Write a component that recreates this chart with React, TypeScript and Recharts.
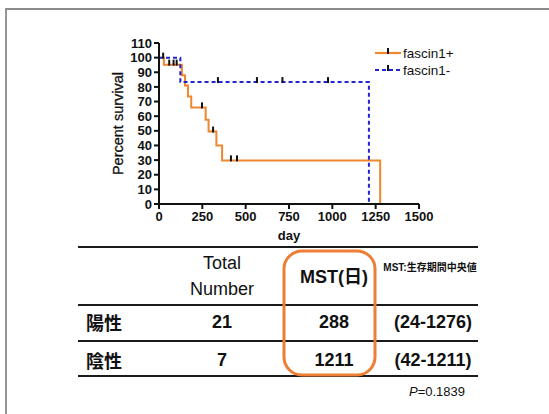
import React from 'react';
import { LineChart, Line, XAxis, YAxis, Legend } from 'recharts';

// ---- chart data (day, percent survival, c = censored mark) ----
const fascinPos = [
  { d: 0, v: 100 },
  { d: 24, v: 100, c: 1 },
  { d: 28, v: 95.2 },
  { d: 59, v: 95.2, c: 1 },
  { d: 84, v: 95.2, c: 1 },
  { d: 102, v: 95.2, c: 1 },
  { d: 132, v: 88 },
  { d: 150, v: 81 },
  { d: 167, v: 73.5 },
  { d: 186, v: 66 },
  { d: 248, v: 66, c: 1 },
  { d: 269, v: 57.5 },
  { d: 286, v: 49.5 },
  { d: 312, v: 49.5, c: 1 },
  { d: 331, v: 40 },
  { d: 364, v: 29.8 },
  { d: 415, v: 29.8, c: 1 },
  { d: 450, v: 29.8, c: 1 },
  { d: 1276, v: 0 },
];
const fascinNeg = [
  { d: 0, v: 100 },
  { d: 123, v: 83.3 },
  { d: 340, v: 83.3, c: 1 },
  { d: 565, v: 83.3, c: 1 },
  { d: 712, v: 83.3, c: 1 },
  { d: 975, v: 83.3, c: 1 },
  { d: 1211, v: 0 },
];
const xTicks = [0, 250, 500, 750, 1000, 1250, 1500];
const yTicks = [0, 10, 20, 30, 40, 50, 60, 70, 80, 90, 100, 110];
const seriesNames = ['fascin1+', 'fascin1-'];
const seriesColors = ['#F0862E', '#2323D2'];

// ---- table data ----
const headerTotal = ['Total', 'Number'];
const headerMst = 'MST(日)';
const headerNote = 'MST:生存期間中央値';
const rowLabels = ['陽性', '陰性'];
const rowTotals = [21, 7];
const rowMst = [288, 1211];
const rowRanges = ['(24-1276)', '(42-1211)'];
const pValue = '=0.1839';

const FONT = '"Liberation Sans", Arial, Helvetica, sans-serif';
const CJK = '"Liberation Sans", "Noto Sans CJK JP", sans-serif';

const renderCensor = (props: any) => {
  const { cx, cy, payload, index } = props;
  if (!payload || !payload.c) return <g key={`n${index}`} />;
  return <rect key={`c${index}`} x={cx - 1} y={cy - 5} width={2} height={6} fill="#111" />;
};

const YLabel = (props: any) => {
  const vb = props.viewBox || { x: 119, y: 43, width: 40, height: 161 };
  const cx = vb.x - 1;
  const cy = vb.y + vb.height / 2;
  return (
    <text x={cx} y={cy} transform={`rotate(-90 ${cx} ${cy})`} textAnchor="middle" dominantBaseline="central"
      fontFamily={FONT} fontSize={14.5} fill="#111" stroke="#111" strokeWidth={0.3}>Percent survival</text>
  );
};

const XLabel = (props: any) => {
  const vb = props.viewBox || { x: 159, y: 204, width: 260, height: 22 };
  return (
    <text x={vb.x + vb.width / 2} y={235} textAnchor="middle" dominantBaseline="central"
      fontFamily={FONT} fontSize={13} fontWeight="bold" fill="#111">day</text>
  );
};

const LegendContent = () => (
  <svg width={110} height={36} style={{ display: 'block' }}>
    {seriesNames.map((n, i) => {
      const y = 9 + i * 17;
      return (
        <g key={n}>
          <line x1={3} x2={29} y1={y} y2={y} stroke={seriesColors[i]} strokeWidth={2.2}
            strokeDasharray={i === 1 ? '4 3' : undefined} />
          <rect x={15} y={y - 5} width={2} height={6} fill="#111" />
          <text x={31} y={y} dominantBaseline="central" fontFamily={FONT} fontSize={13.5} fill="#111">{n}</text>
        </g>
      );
    })}
  </svg>
);

const colX = { label: 86, total: 222, mst: 334, range: 433 };
const rowY = [322, 360];
const lineYs = [247, 305, 341, 376];

const TableOverlay = () => (
  <svg width={549} height={414} style={{ position: 'absolute', left: 0, top: 0, pointerEvents: 'none' }}>
    {/* frame edges */}
    <line x1={6} x2={6} y1={8} y2={414} stroke="#8a8a8a" strokeWidth={1.8} />
    <line x1={6} x2={549} y1={9} y2={9} stroke="#8a8a8a" strokeWidth={1.8} />
    {lineYs.map((y) => (
      <line key={y} x1={78} x2={478} y1={y} y2={y} stroke="#1a1a1a" strokeWidth={2} />
    ))}
    <text x={colX.total} y={263} textAnchor="middle" dominantBaseline="central" fontFamily={FONT} fontSize={18} fill="#111">{headerTotal[0]}</text>
    <text x={colX.total} y={289} textAnchor="middle" dominantBaseline="central" fontFamily={FONT} fontSize={18} fill="#111">{headerTotal[1]}</text>
    <text x={colX.mst} y={277} textAnchor="middle" dominantBaseline="central" fontFamily={CJK} fontSize={18} fontWeight="bold" fill="#111">{headerMst}</text>
    <text x={430} y={267} textAnchor="middle" dominantBaseline="central" fontFamily={CJK} fontSize={10} fontWeight="bold" fill="#111">{headerNote}</text>
    {rowLabels.map((lab, i) => (
      <g key={lab}>
        <text x={colX.label} y={rowY[i]} dominantBaseline="central" fontFamily='"Noto Sans CJK JP", sans-serif' fontSize={18} fontWeight="bold" fill="#111">{lab}</text>
        <text x={colX.total} y={rowY[i]} textAnchor="middle" dominantBaseline="central" fontFamily={FONT} fontSize={18} fontWeight="bold" fill="#111">{rowTotals[i]}</text>
        <text x={colX.mst} y={rowY[i]} textAnchor="middle" dominantBaseline="central" fontFamily={FONT} fontSize={18} fontWeight="bold" fill="#111">{rowMst[i]}</text>
        <text x={colX.range} y={rowY[i]} textAnchor="middle" dominantBaseline="central" fontFamily={FONT} fontSize={18} fontWeight="bold" fill="#111">{rowRanges[i]}</text>
      </g>
    ))}
    <text x={465} y={391} textAnchor="end" dominantBaseline="central" fontFamily={FONT} fontSize={13} fill="#111">
      <tspan fontStyle="italic">P</tspan>{pValue}
    </text>
    <rect x={284} y={251} width={91} height={124} rx={18} ry={18} fill="none" stroke="#EE7E33" strokeWidth={3} />
  </svg>
);

export default function App() {
  return (
    <div style={{ position: 'absolute', left: 0, top: 0, width: 549, height: 414, background: '#fff' }}>
      <LineChart width={549} height={414} margin={{ top: 43, right: 130, bottom: 188, left: 119 }}>
        <XAxis dataKey="d" type="number" domain={[0, 1500]} ticks={xTicks} interval={0} allowDataOverflow
          height={22} tickSize={5} tickMargin={3}
          axisLine={{ stroke: '#111', strokeWidth: 2 }} tickLine={{ stroke: '#111', strokeWidth: 2 }}
          tick={{ fill: '#111', fontSize: 13, fontWeight: 'bold', fontFamily: FONT }}
          label={<XLabel />} />
        <YAxis type="number" domain={[0, 110]} ticks={yTicks} interval={0} width={40} tickSize={5} tickMargin={2}
          axisLine={{ stroke: '#111', strokeWidth: 2 }} tickLine={{ stroke: '#111', strokeWidth: 2 }}
          tick={{ fill: '#111', fontSize: 13, fontWeight: 'bold', fontFamily: FONT }}
          label={<YLabel />} />
        <Legend verticalAlign="middle" align="center" layout="horizontal"
          wrapperStyle={{ left: 372, top: 44, width: 110, height: 36 }} content={<LegendContent />} />
        <Line data={fascinPos} dataKey="v" name={seriesNames[0]} type="stepAfter" stroke={seriesColors[0]}
          strokeWidth={2} dot={renderCensor} activeDot={false} isAnimationActive={false} />
        <Line data={fascinNeg} dataKey="v" name={seriesNames[1]} type="stepAfter" stroke={seriesColors[1]}
          strokeWidth={2} strokeDasharray="4 3" dot={renderCensor} activeDot={false} isAnimationActive={false} />
      </LineChart>
      <TableOverlay />
    </div>
  );
}
